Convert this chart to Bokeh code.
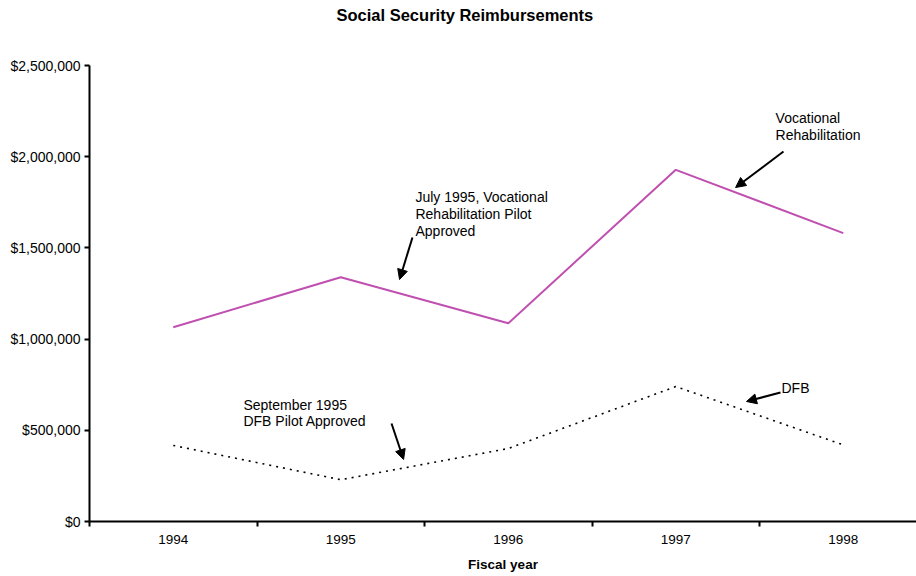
from bokeh.plotting import figure
from bokeh.models import (Range1d, LinearAxis, FixedTicker, NumeralTickFormatter,
                          Label, Arrow, NormalHead, Title)
from bokeh.embed import file_html
from bokeh.resources import INLINE

# ---- data ----
years = ["1994", "1995", "1996", "1997", "1998"]
vocational_rehab = [1065000, 1339000, 1087000, 1928000, 1581000]
dfb = [417000, 229000, 400000, 740000, 420000]
y_ticks = [0, 500000, 1000000, 1500000, 2000000, 2500000]

FONT = "Liberation Sans"
xc = [i + 0.5 for i in range(len(years))]  # category centres

p = figure(width=916, height=576, output_backend="svg", toolbar_location=None,
           x_range=Range1d(0, 4.937), y_range=Range1d(0, 2500000),
           x_axis_type=None, y_axis_type=None,
           min_border_left=89, min_border_right=0, min_border_top=65,
           min_border_bottom=55, outline_line_color=None)
p.xgrid.visible = False
p.ygrid.visible = False

# invisible spacer between frame and title
spacer = LinearAxis(ticker=FixedTicker(ticks=[0]))
spacer.axis_line_color = None
spacer.major_tick_line_color = None
spacer.minor_tick_line_color = None
spacer.major_tick_in = 0
spacer.major_tick_out = 42
spacer.minor_tick_out = 0
spacer.major_label_standoff = 0
spacer.major_label_text_font_size = "0px"
spacer.major_label_text_color = None
p.add_layout(spacer, "above")

p.add_layout(Title(text="Social Security Reimbursements", align="left", offset=247,
                   vertical_align="bottom", standoff=0,
                   text_font=FONT, text_font_size="16.5px", text_font_style="bold",
                   text_color="black"), "above")

# y axis
yax = LinearAxis(ticker=FixedTicker(ticks=y_ticks),
                 formatter=NumeralTickFormatter(format="$0,0"))
yax.axis_line_width = 2
yax.major_tick_line_width = 2
yax.major_tick_in = 0
yax.major_tick_out = 5
yax.minor_tick_line_color = None
yax.major_label_text_font = FONT
yax.major_label_text_font_size = "14px"
yax.major_label_text_color = "black"
yax.major_label_standoff = 4
p.add_layout(yax, "left")

# x axis: boundary ticks only
xax = LinearAxis(ticker=FixedTicker(ticks=list(range(len(years) + 1))))
xax.axis_line_width = 2
xax.major_tick_line_width = 2
xax.major_tick_in = 0
xax.major_tick_out = 5
xax.minor_tick_line_color = None
xax.major_label_text_font_size = "0px"
xax.major_label_text_color = None
xax.major_label_standoff = 0
p.add_layout(xax, "below")

# x axis: category labels
xlab = LinearAxis(ticker=FixedTicker(ticks=xc),
                  major_label_overrides={c: y for c, y in zip(xc, years)})
xlab.axis_line_color = None
xlab.major_tick_line_color = None
xlab.minor_tick_line_color = None
xlab.major_label_text_font = FONT
xlab.major_label_text_font_size = "13.5px"
xlab.major_label_text_color = "black"
xlab.major_label_standoff = 2
xlab.axis_label = "Fiscal year"
xlab.axis_label_text_font = FONT
xlab.axis_label_text_font_size = "13.5px"
xlab.axis_label_text_font_style = "bold"
xlab.axis_label_text_color = "black"
xlab.axis_label_standoff = 10
p.add_layout(xlab, "below")

# series
p.line(xc, vocational_rehab, line_color="#C050B0", line_width=2)
p.line(xc, dfb, line_color="black", line_width=1.6, line_dash="2 5")

# annotations
notes = [
    (1.946, 1822000, "July 1995, Vocational\nRehabilitation Pilot\nApproved"),
    (0.919, 685300, "September 1995\nDFB Pilot Approved"),
    (4.096, 2253300, "Vocational\nRehabilitation"),
    (4.131, 778500, "DFB"),
]
for x, y, t in notes:
    p.add_layout(Label(x=x, y=y, text=t, text_font=FONT, text_font_size="14px",
                       text_align="left", text_baseline="top", text_color="black",
                       text_line_height=1.05))

arrows = [
    (1.928, 1557000, 1.851, 1326800),
    (1.803, 537300, 1.875, 339900),
    (4.143, 2028500, 3.857, 1831100),
    (4.125, 707200, 3.922, 657900),
]
for xs, ys, xe, ye in arrows:
    p.add_layout(Arrow(x_start=xs, y_start=ys, x_end=xe, y_end=ye,
                       line_width=2, line_color="black",
                       end=NormalHead(size=10, fill_color="black", line_color="black")))

open("out.html", "w").write(file_html(p, INLINE))
